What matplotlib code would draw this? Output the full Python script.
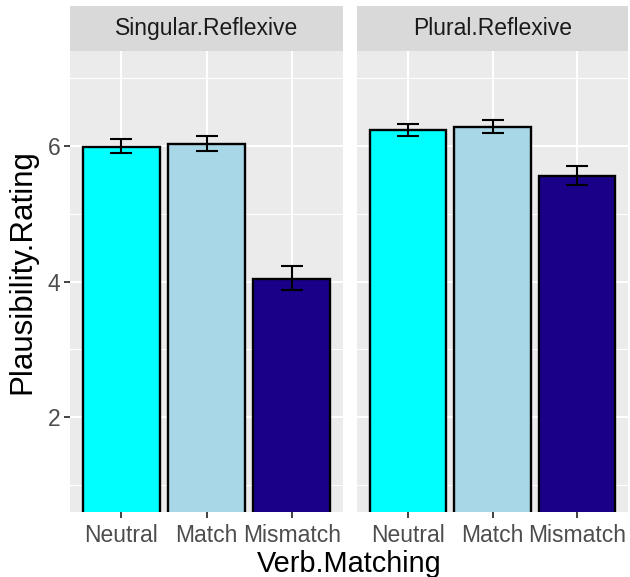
import matplotlib
matplotlib.use("Agg")
import matplotlib.pyplot as plt
import numpy as np

plt.rcParams['font.family'] = ['Liberation Sans', 'DejaVu Sans']

panels = ["Singular.Reflexive", "Plural.Reflexive"]
categories = ["Neutral", "Match", "Mismatch"]
means = {
    "Singular.Reflexive": [5.98, 6.03, 4.04],
    "Plural.Reflexive": [6.24, 6.28, 5.56],
}
err_low = {
    "Singular.Reflexive": [5.89, 5.93, 3.88],
    "Plural.Reflexive": [6.15, 6.19, 5.43],
}
err_high = {
    "Singular.Reflexive": [6.10, 6.14, 4.23],
    "Plural.Reflexive": [6.32, 6.38, 5.70],
}
colors = ["#00FFFF", "#A8D8E7", "#1A0088"]
yticks = [2, 4, 6]
minor_ticks = [1, 3, 5, 7]

W, H = 630, 577
fig = plt.figure(figsize=(W / 100, H / 100), dpi=100)

panel_lefts = [70, 357]
panel_w = 273
panel_top, panel_bot = 51, 512
strip_top = 6

for i, name in enumerate(panels):
    l = panel_lefts[i] / W
    b = (H - panel_bot) / H
    w = (panel_w if i == 0 else 628 - 357) / W
    h = (panel_bot - panel_top) / H
    ax = fig.add_axes([l, b, w, h])
    ax.set_facecolor("#EBEBEB")
    x = np.arange(1, len(categories) + 1)
    ax.set_xlim(0.4, 3.6)
    ax.set_ylim(0.6, 7.4)
    for mt in minor_ticks:
        ax.axhline(mt, color="white", lw=0.75, zorder=0)
    for t in yticks:
        ax.axhline(t, color="white", lw=1.5, zorder=0)
    for xi in x:
        ax.axvline(xi, color="white", lw=1.5, zorder=0)
    m = np.array(means[name])
    ax.bar(x, m, width=0.9, color=colors, edgecolor="black", linewidth=1.7, zorder=2)
    lo = np.array(err_low[name])
    hi = np.array(err_high[name])
    ax.errorbar(x, m, yerr=[m - lo, hi - m], fmt="none", ecolor="black",
                elinewidth=1.5, capsize=7.8, capthick=1.5, zorder=3)
    for s in ax.spines.values():
        s.set_visible(False)
    ax.set_xticks(x)
    ax.set_xticklabels(categories, fontsize=16.5, color="#4D4D4D")
    ax.tick_params(axis="x", length=4, width=1.3, color="#333333", pad=5)
    if i == 0:
        ax.set_yticks(yticks)
        ax.set_yticklabels([str(t) for t in yticks], fontsize=16.5, color="#4D4D4D")
        ax.tick_params(axis="y", length=4, width=1.3, color="#333333", pad=3)
    else:
        ax.set_yticks([])
    # strip
    sax = fig.add_axes([l, (H - panel_top) / H, w, (panel_top - strip_top) / H])
    sax.set_facecolor("#D9D9D9")
    sax.set_xticks([])
    sax.set_yticks([])
    for s in sax.spines.values():
        s.set_visible(False)
    sax.text(0.5, 0.5, name, ha="center", va="center", fontsize=16.5,
             color="#1A1A1A", transform=sax.transAxes)

fig.text(349 / W, 1 - 572 / H, "Verb.Matching", ha="center", va="baseline",
         fontsize=20.8, color="black")
fig.text(22 / W, 1 - 272 / H, "Plausibility.Rating", ha="center", va="center",
         rotation=90, fontsize=22.5, color="black")

fig.savefig("out.png", dpi=100)
